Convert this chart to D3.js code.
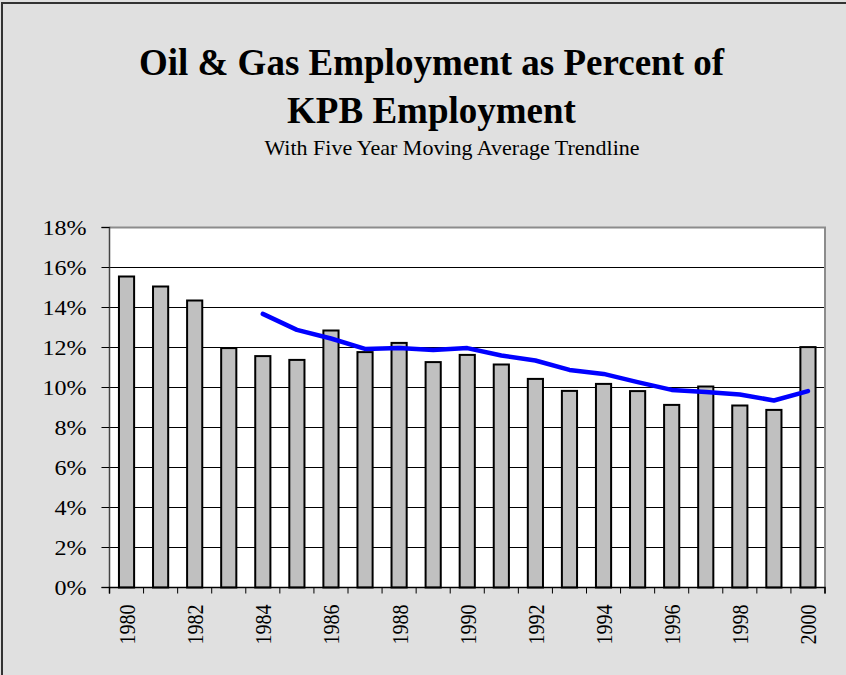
<!DOCTYPE html>
<html lang="en">
<head>
    <meta charset="UTF-8">
    <script src="https://cdnjs.cloudflare.com/ajax/libs/d3/7.8.5/d3.min.js"></script>
    <title>Oil & Gas Employment</title>
<style>
    body{
        margin: 0;
        background: #e0e0e0;
        font-family: 'Liberation Serif', 'Times New Roman', serif;
    }
    svg{ display: block; }
    .title{ font-weight: bold; font-size: 37px; }
    .subtitle{ font-size: 22px; }
    .yaxis text{ font-size: 21.5px; font-family: 'Liberation Serif', serif; }
    .xlabels text{ font-size: 20px; font-family: 'Liberation Serif', serif; }
</style>
</head>
<body>
<svg></svg>
<script>
    // data
    const years = ['1980','1981','1982','1983','1984','1985','1986','1987','1988','1989','1990',
                   '1991','1992','1993','1994','1995','1996','1997','1998','1999','2000']
    const share = [15.55, 15.05, 14.35, 11.97, 11.57, 11.38, 12.85, 11.77, 12.23, 11.27, 11.63,
                   11.15, 10.43, 9.83, 10.18, 9.82, 9.13, 10.05, 9.10, 8.88, 12.02]
    // five year moving average, starts in 1984
    const trendYears = years.slice(4)
    const trend = [13.68, 12.88, 12.45, 11.93, 11.98, 11.88, 11.97, 11.60, 11.35, 10.88, 10.68,
                   10.27, 9.88, 9.77, 9.65, 9.35, 9.82]
    const yTicks = [0, 2, 4, 6, 8, 10, 12, 14, 16, 18]

    const W = 846, H = 675
    const pLeft = 109.5, pRight = 825, pTop = 227.5, pBot = 587.5

    const svg = d3.select('svg')
        .attr('width', W)
        .attr('height', H)

    // outer chart border, only top and left show in the crop
    svg.append('path')
        .attr('d', 'M2,' + H + 'V3H' + W)
        .attr('fill', 'none')
        .attr('stroke', '#333').attr('stroke-width', 2)

    // titles
    svg.append('text').attr('class', 'title')
        .attr('x', 431.5).attr('y', 75)
        .attr('text-anchor', 'middle')
        .text('Oil & Gas Employment as Percent of')
    svg.append('text').attr('class', 'title')
        .attr('x', 431.5).attr('y', 123)
        .attr('text-anchor', 'middle')
        .text('KPB Employment')
    svg.append('text').attr('class', 'subtitle')
        .attr('x', 452).attr('y', 155)
        .attr('text-anchor', 'middle')
        .text('With Five Year Moving Average Trendline')

    const x = d3.scaleBand()
        .domain(years)
        .range([pLeft, pRight])
        .paddingInner(0.555)
        .paddingOuter(0.2775)

    const xEdge = d3.scaleLinear()
        .domain([0, years.length])
        .range([pLeft, pRight])

    const y = d3.scaleLinear()
        .domain([0, 18])
        .range([pBot, pTop])

    // plot area
    svg.append('rect')
        .attr('x', pLeft).attr('y', pTop)
        .attr('width', pRight - pLeft).attr('height', pBot - pTop)
        .attr('fill', 'white')

    // gridlines
    svg.append('g')
        .attr('transform', 'translate(' + pLeft + ',0)')
        .call(d3.axisLeft(y).tickValues(yTicks.slice(1, -1)).tickSize(-(pRight - pLeft)).tickFormat('').offset(0))
        .call(g => g.select('.domain').remove())
        .selectAll('line').attr('stroke', '#000')

    // plot border (top + right)
    svg.append('path')
        .attr('d', 'M' + pLeft + ',' + pTop + 'H' + pRight + 'V' + pBot)
        .attr('fill', 'none')
        .attr('stroke', '#8c8c8c')
        .attr('stroke-width', 2)

    // bars
    svg.selectAll('.bar')
        .data(share)
        .enter()
        .append('rect')
        .attr('class', 'bar')
        .attr('x', (d, i) => x(years[i]))
        .attr('y', d => y(d))
        .attr('width', x.bandwidth())
        .attr('height', d => y(0) - y(d))
        .attr('fill', '#c0c0c0')
        .attr('stroke', '#000')
        .attr('stroke-width', 2)

    // moving average line
    const line = d3.line()
        .x((d, i) => x(trendYears[i]) + x.bandwidth() / 2)
        .y(d => y(d))
    svg.append('path')
        .datum(trend)
        .attr('d', line)
        .attr('fill', 'none')
        .attr('stroke', '#0000ff')
        .attr('stroke-width', 4.5)
        .attr('stroke-linejoin', 'round')
        .attr('stroke-linecap', 'round')

    // y axis, labels a bit wide like the original
    const ySx = 1.12
    svg.append('g')
        .attr('class', 'yaxis')
        .attr('transform', 'translate(' + pLeft + ',0)')
        .call(d3.axisLeft(y).tickValues(yTicks).tickFormat(d => d + '%').tickSize(8).tickPadding(15).offset(0))
        .call(g => g.select('.domain').attr('stroke', '#444').attr('stroke-width', 1.5))
        .call(g => g.selectAll('text')
            .attr('fill', '#000')
            .attr('dy', '0.35em')
            .attr('x', -23 / ySx)
            .attr('transform', 'scale(' + ySx + ',1)'))

    // x axis ticks at category edges
    svg.append('g')
        .attr('transform', 'translate(0,' + pBot + ')')
        .call(d3.axisBottom(xEdge).tickValues(d3.range(years.length + 1)).tickSize(6).tickFormat('').offset(0))
        .call(g => g.select('.domain').attr('stroke', '#000').attr('stroke-width', 1.5))

    // x labels, every other year, rotated
    svg.append('g')
        .attr('class', 'xlabels')
        .attr('transform', 'translate(0,' + pBot + ')')
        .call(d3.axisBottom(x).tickValues(years.filter((d, i) => i % 2 === 0)).tickSize(0).offset(0))
        .call(g => g.select('.domain').remove())
        .selectAll('text')
        .attr('fill', '#000')
        .attr('transform', 'rotate(-90) scale(1,1.2)')
        .attr('text-anchor', 'end')
        .attr('x', -17)
        .attr('y', 0)
        .attr('dy', '0.35em')
</script>
</body>
</html>
